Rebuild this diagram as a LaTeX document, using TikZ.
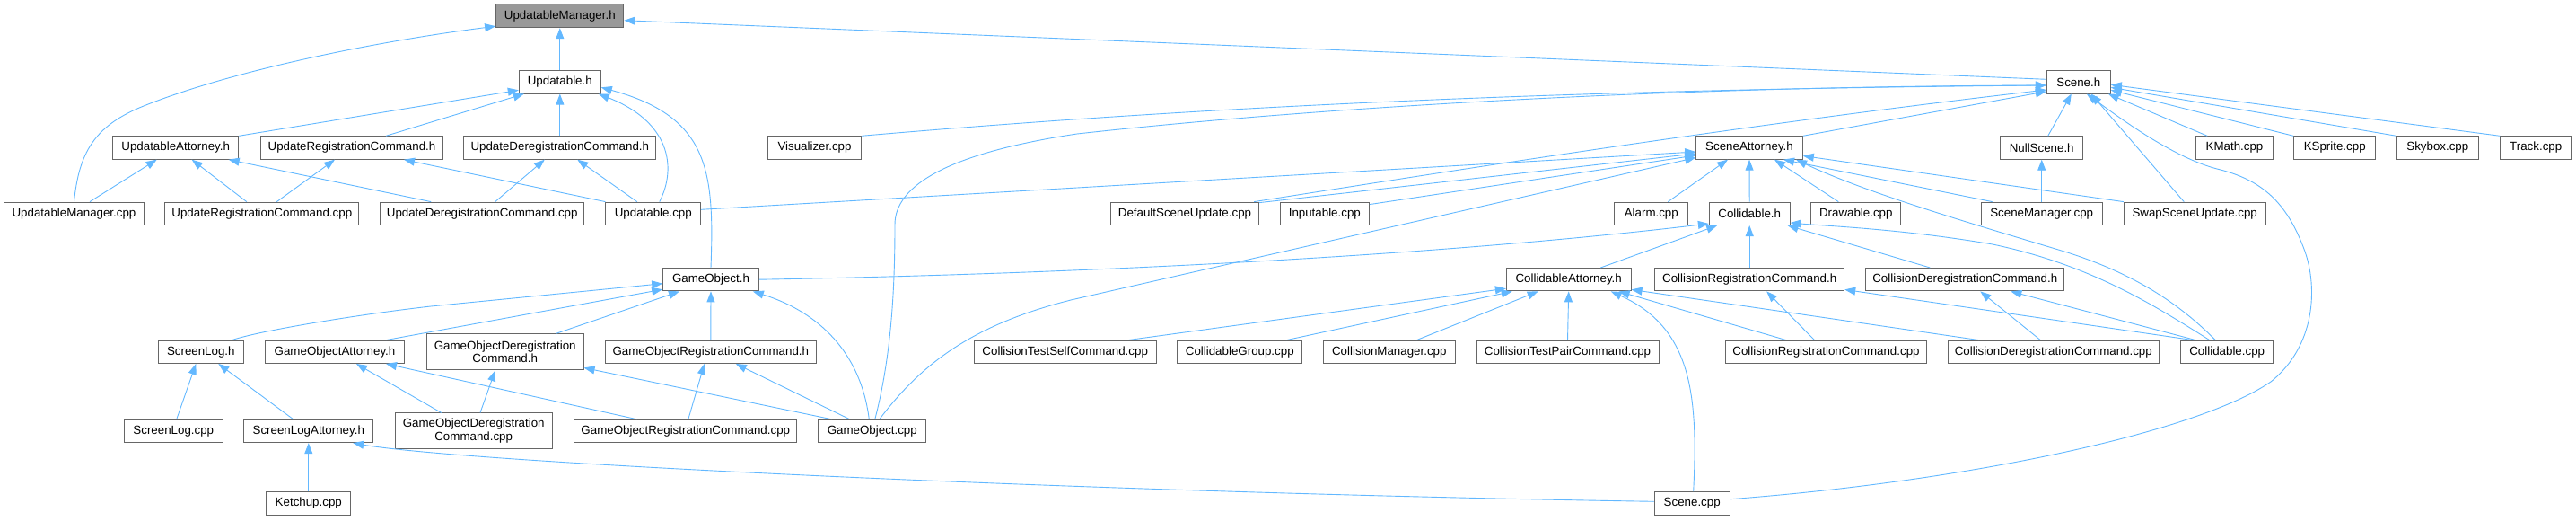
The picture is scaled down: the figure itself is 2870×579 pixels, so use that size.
\documentclass[tikz,border=0pt]{standalone}
\usepackage{fontspec}
\setmainfont{Liberation Sans}
\usetikzlibrary{arrows.meta}
\definecolor{nbord}{HTML}{666666}
\definecolor{ecol}{HTML}{63B8FF}
\definecolor{rootfill}{HTML}{999999}
\tikzset{
  box/.style={draw=nbord, line width=1pt, fill=white, inner sep=0pt, minimum height=25.4pt,
    font=\fontsize{13.33}{14.7}\selectfont, align=center, text=black},
  edge/.style={draw=ecol, line width=0.9pt, -{Triangle[length=12pt,width=9pt]}},
}
\newcommand\bx[5]{\node[box, minimum width=#4pt] (#1) at (#2,#3) {#5};}
\begin{document}
\begin{tikzpicture}[x=1pt,y=-1pt]
\useasboundingbox (0,0) rectangle (2870,579);
% row 1
\node[box, fill=rootfill, minimum width=142.3pt, minimum height=26pt] (umh) at (623.8,17.7) {UpdatableManager.h};
% row 2
\bx{updh}{623.8}{91.3}{91}{Updatable.h}
\bx{sceneh}{2315.8}{91.3}{71}{Scene.h}
% row 3
\bx{uatt}{195.7}{164.5}{140}{UpdatableAttorney.h}
\bx{urch}{392}{164.5}{202.6}{UpdateRegistrationCommand.h}
\bx{udch}{623.8}{164.5}{213.7}{UpdateDeregistrationCommand.h}
\bx{viz}{907.5}{164.5}{103.6}{Visualizer.cpp}
\bx{satt}{1949}{164.5}{118.6}{SceneAttorney.h}
\bx{nulls}{2274.7}{164.5}{92}{NullScene.h}
\bx{kmath}{2489.5}{164.5}{85.6}{KMath.cpp}
\bx{ksprite}{2601.2}{164.5}{91}{KSprite.cpp}
\bx{skybox}{2715.8}{164.5}{91}{Skybox.cpp}
\bx{track}{2825.2}{164.5}{79}{Track.cpp}
% row 4
\bx{umcpp}{82.5}{237.8}{155.6}{UpdatableManager.cpp}
\bx{urccpp}{291.8}{237.8}{216.3}{UpdateRegistrationCommand.cpp}
\bx{udccpp}{537.2}{237.8}{227}{UpdateDeregistrationCommand.cpp}
\bx{updcpp}{727.8}{237.8}{105.7}{Updatable.cpp}
\bx{dsu}{1320}{237.8}{165.4}{DefaultSceneUpdate.cpp}
\bx{inp}{1475.8}{237.8}{99}{Inputable.cpp}
\bx{alarm}{1839.8}{237.8}{81.7}{Alarm.cpp}
\bx{collh}{1949.2}{237.8}{89.7}{Collidable.h}
\bx{draw}{2067.8}{237.8}{100.3}{Drawable.cpp}
\bx{smgr}{2274.7}{237.8}{134.7}{SceneManager.cpp}
\bx{ssu}{2445.2}{237.8}{157.7}{SwapSceneUpdate.cpp}
% row 5
\bx{goh}{792}{311.2}{106.6}{GameObject.h}
\bx{catt}{1747.7}{311.2}{138.7}{CollidableAttorney.h}
\bx{crch}{1949.2}{311.2}{211}{CollisionRegistrationCommand.h}
\bx{cdch}{2189.3}{311.2}{221.3}{CollisionDeregistrationCommand.h}
% row 6
\bx{slh}{223.8}{391.8}{95}{ScreenLog.h}
\bx{goatt}{373}{391.8}{154.6}{GameObjectAttorney.h}
\node[box, minimum width=174.7pt, minimum height=40.3pt] (godch) at (562.7,391.8) {GameObjectDeregistration\\Command.h};
\bx{gorch}{791.8}{391.8}{235}{GameObjectRegistrationCommand.h}
\bx{ctsc}{1186.7}{391.8}{203.3}{CollisionTestSelfCommand.cpp}
\bx{cgrp}{1381.3}{391.8}{139.3}{CollidableGroup.cpp}
\bx{cmgr}{1547.8}{391.8}{147}{CollisionManager.cpp}
\bx{ctpc}{1746.5}{391.8}{203}{CollisionTestPairCommand.cpp}
\bx{crccpp}{2034.5}{391.8}{224.4}{CollisionRegistrationCommand.cpp}
\bx{cdccpp}{2287.8}{391.8}{235}{CollisionDeregistrationCommand.cpp}
\bx{collcpp}{2481.2}{391.8}{103}{Collidable.cpp}
% row 7
\bx{slcpp}{193.3}{480}{110}{ScreenLog.cpp}
\bx{slatt}{343.8}{480}{144.3}{ScreenLogAttorney.h}
\node[box, minimum width=174.7pt, minimum height=39.7pt] (godccpp) at (527.7,479.8) {GameObjectDeregistration\\Command.cpp};
\bx{gorccpp}{763.8}{480}{248.3}{GameObjectRegistrationCommand.cpp}
\bx{gocpp}{971.8}{480}{120.3}{GameObject.cpp}
% row 8
\bx{ketchup}{343.8}{560.3}{94.3}{Ketchup.cpp}
\bx{scenecpp}{1885.2}{560.3}{84.3}{Scene.cpp}

% ---- edges ----
% UpdatableManager.h
\draw[edge] (updh.north) -- (umh.south);
\draw[edge] (umcpp.north) .. controls (88,170) and (105,140) .. (160,118) .. controls (260,78) and (420,46) .. ([yshift=2]umh.south west);
\draw[edge] ([yshift=3]sceneh.west) -- ([yshift=-5]umh.east);
% Updatable.h
\draw[edge] (uatt.north east) -- ([yshift=-9]updh.west);
\draw[edge] ([xshift=38]urch.north) -- ([xshift=-40]updh.south);
\draw[edge] (udch.north) -- (updh.south);
\draw[edge] ([xshift=7]updcpp.north) .. controls (755,185) and (745,135) .. ([xshift=-3]updh.south east);
\draw[edge] (goh.north) .. controls (796,190) and (790,130) .. ([yshift=-6]updh.east);
% UpdatableAttorney.h
\draw[edge] ([xshift=17.5]umcpp.north) -- ([xshift=-21]uatt.south);
\draw[edge] ([xshift=-17]urccpp.north) -- ([xshift=18]uatt.south);
\draw[edge] ([xshift=-57]udccpp.north) -- ([xshift=59]uatt.south);
% UpdateRegistrationCommand.h
\draw[edge] ([xshift=16.5]urccpp.north) -- ([xshift=-19]urch.south);
\draw[edge] (updcpp.north west) -- ([xshift=58]urch.south);
% UpdateDeregistrationCommand.h
\draw[edge] ([xshift=14.5]udccpp.north) -- ([xshift=-17]udch.south);
\draw[edge] ([xshift=-18]updcpp.north) -- ([xshift=19.5]udch.south);
% Scene.h
\draw[edge] (viz.north east) .. controls (1300,122) and (1700,100) .. ([yshift=-3.7]sceneh.west);
\draw[edge] ([xshift=3]gocpp.north) .. controls (992,400) and (997,330) .. (997,250) .. controls (997,205) and (1060,170) .. (1200,149) .. controls (1500,116) and (1900,96) .. ([yshift=-3.7]sceneh.west);
\draw[edge] ([xshift=-6]dsu.north east) .. controls (1650,185) and (1950,138) .. ([yshift=-8.7]sceneh.west);
\draw[edge] (satt.north east) -- ([yshift=-10.5]sceneh.west);
\draw[edge] ([xshift=7]nulls.north) -- ([xshift=-8]sceneh.south);
\draw[edge] ([xshift=13]kmath.north west) -- ([xshift=-3]sceneh.south east);
\draw[edge] (ksprite.north west) -- ([yshift=-9]sceneh.east);
\draw[edge] (skybox.north west) -- ([yshift=-6]sceneh.east);
\draw[edge] (track.north west) -- ([yshift=-3]sceneh.east);
\draw[edge] ([xshift=-12]ssu.north) -- ([xshift=14]sceneh.south);
\draw[edge] ([yshift=4.6]scenecpp.east) .. controls (2200,535) and (2450,480) .. (2530,425) .. controls (2580,385) and (2582,320) .. (2568,280) .. controls (2548,225) and (2520,200) .. (2470,188) .. controls (2420,175) and (2360,130) .. ([xshift=9]sceneh.south);
% SceneAttorney.h
\draw[edge] ([yshift=4.5]updcpp.east) -- ([yshift=-4.5]satt.west);
\draw[edge] ([yshift=-1]dsu.north east) -- ([yshift=-6.5]satt.west);
\draw[edge] ([yshift=-3]inp.north east) -- ([yshift=-8.5]satt.west);
\draw[edge] ([xshift=8]gocpp.north) .. controls (1030,400) and (1090,360) .. (1193,334) -- ([yshift=-11]satt.west);
\draw[edge] ([xshift=18.5]alarm.north) -- ([xshift=-24]satt.south);
\draw[edge] (collh.north) -- (satt.south);
\draw[edge] ([xshift=-19.5]draw.north) -- ([xshift=28]satt.south);
\draw[edge] ([xshift=-55]smgr.north) -- ([xshift=38]satt.south);
\draw[edge] (ssu.north west) -- ([yshift=-9]satt.east);
\draw[edge] ([xshift=-13]collcpp.north) .. controls (2430,340) and (2380,305) .. (2300,280) .. controls (2200,250) and (2080,215) .. ([xshift=52]satt.south);
% NullScene.h
\draw[edge] (smgr.north) -- (nulls.south);
% Collidable.h
\draw[edge] (goh.east) .. controls (1200,305) and (1600,285) .. ([yshift=2]collh.south west);
\draw[edge] ([xshift=35.6]catt.north) -- ([xshift=-36]collh.south);
\draw[edge] (crch.north) -- (collh.south);
\draw[edge] ([xshift=-39]cdch.north) -- ([xshift=-3]collh.south east);
\draw[edge] ([xshift=-19.5]collcpp.north) .. controls (2400,340) and (2330,295) .. (2220,272) .. controls (2120,255) and (2040,252) .. ([yshift=3]collh.south east);
% GameObject.h
\draw[edge] ([xshift=34.5]slh.north) .. controls (290,368) and (400,350) .. (480,341) -- ([yshift=-4.5]goh.west);
\draw[edge] ([xshift=57]goatt.north) -- ([yshift=-11]goh.west);
\draw[edge] ([xshift=57.3]godch.north) -- ([xshift=-35]goh.south);
\draw[edge] (gorch.north) -- (goh.south);
\draw[edge] ([xshift=-3.5]gocpp.north) .. controls (960,400) and (920,350) .. ([xshift=-7]goh.south east);
% GameObjectAttorney.h
\draw[edge] ([xshift=-36]godccpp.north) -- ([xshift=24]goatt.south);
\draw[edge] ([xshift=-54]gorccpp.north) -- ([xshift=57]goatt.south);
% GameObjectDeregistrationCommand.h
\draw[edge] ([xshift=7.3]godccpp.north) -- ([xshift=-11]godch.south);
\draw[edge] ([xshift=-45]gocpp.north) -- ([yshift=3]godch.south east);
% GameObjectRegistrationCommand.h
\draw[edge] ([xshift=3]gorccpp.north) -- ([xshift=-7]gorch.south);
\draw[edge] ([xshift=-25]gocpp.north) -- ([xshift=28]gorch.south);
% ScreenLog.h
\draw[edge] ([xshift=3.4]slcpp.north) -- ([xshift=-5.5]slh.south);
\draw[edge] ([xshift=-17]slatt.north) -- ([xshift=19.5]slh.south);
% ScreenLogAttorney.h
\draw[edge] (ketchup.north) -- (slatt.south);
\draw[edge] ([yshift=2]scenecpp.west) .. controls (1200,548) and (520,515) .. ([xshift=49.5]slatt.south);
% CollidableAttorney.h
\draw[edge] ([xshift=70]ctsc.north) -- ([yshift=-10]catt.west);
\draw[edge] ([xshift=52]cgrp.north) -- ([xshift=-63]catt.south);
\draw[edge] ([xshift=30.5]cmgr.north) -- ([xshift=-34]catt.south);
\draw[edge] (ctpc.north) -- (catt.south);
\draw[edge] ([xshift=1.5]scenecpp.north) .. controls (1892,440) and (1885,365) .. ([xshift=47]catt.south);
\draw[edge] ([xshift=-44.5]crccpp.north) -- ([xshift=-14]catt.south east);
\draw[edge] ([xshift=-83]cdccpp.north) -- ([yshift=2]catt.south east);
% CollisionRegistrationCommand.h
\draw[edge] ([xshift=-13]crccpp.north) -- ([xshift=19]crch.south);
\draw[edge] ([xshift=-38]collcpp.north) -- ([yshift=2]crch.south east);
% CollisionDeregistrationCommand.h
\draw[edge] ([xshift=-14.5]cdccpp.north) -- ([xshift=17]cdch.south);
\draw[edge] ([xshift=-35]collcpp.north) -- ([xshift=51]cdch.south);
\end{tikzpicture}
\end{document}
